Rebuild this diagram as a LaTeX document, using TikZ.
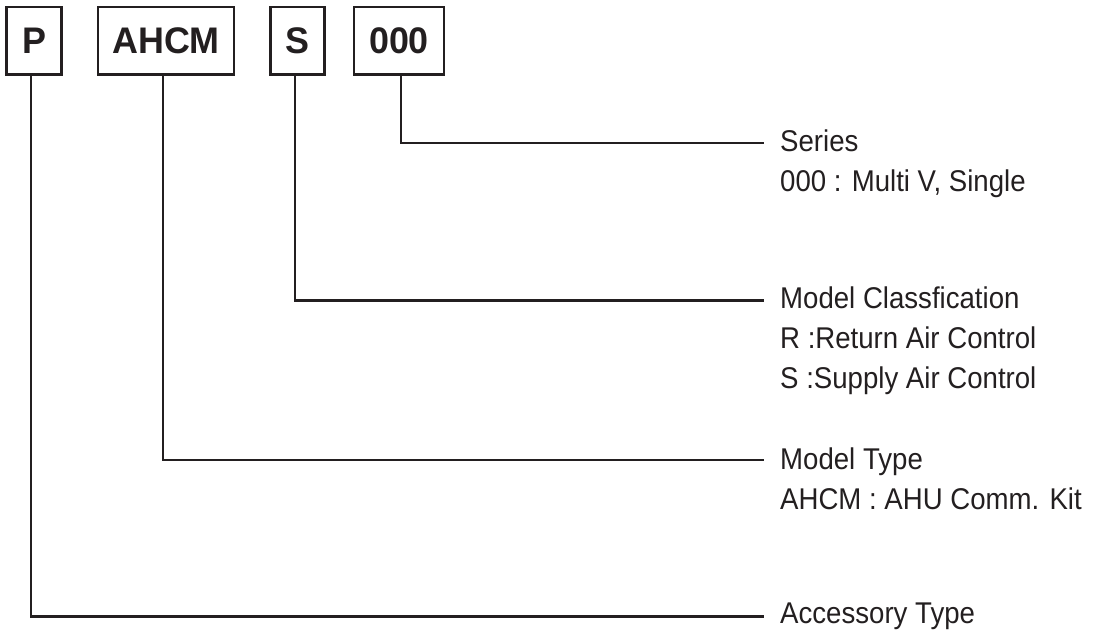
\documentclass[tikz,border=0pt]{standalone}
\usepackage{fontspec}
\setmainfont{Liberation Sans}[FakeStretch=0.92]
\newfontfamily\boxfont{Liberation Sans}[FakeStretch=0.97]
\definecolor{ink}{HTML}{231F20}
\begin{document}
\begin{tikzpicture}[x=1pt,y=-1pt,
  codebox/.style={draw=ink, line width=2.7pt, minimum height=67.6pt, inner sep=0pt,
    font=\boxfont\bfseries\fontsize{37}{40}\selectfont, text=ink},
  conn/.style={draw=ink, line width=2.4pt},
  desc/.style={anchor=base west, inner sep=0pt, text=ink,
    font=\fontsize{30}{40}\selectfont}]
\useasboundingbox (0,0) rectangle (1094,637);
% code boxes
\node[codebox, minimum width=55pt] (bP) at (34,40.8) {P};
\node[codebox, minimum width=136pt] (bA) at (166,40.8) {AHCM};
\node[codebox, minimum width=54pt] (bS) at (297.7,40.8) {S};
\node[codebox, minimum width=90pt] (b0) at (399,40.8) {000};
% connector ends
\coordinate (eSer) at (764,143);
\coordinate (eMC) at (764,300.5);
\coordinate (eMT) at (764,460);
\coordinate (eAcc) at (764,616.5);
% connectors
\draw[conn] (b0.south) ++(2,0) |- (eSer);
\draw[conn] (bS.south) ++(-2.7,0) |- (eMC);
\draw[conn] (bA.south) ++(-3,0) |- (eMT);
\draw[conn] (bP.south) ++(-3,0) |- (eAcc);
% descriptions
\node[desc] (tSer1) at (780,151) {Series};
\node[desc] (tSer2) at (780,191) {000 : Multi V, Single};
\node[desc] (tMC1) at (780,308) {Model Classfication};
\node[desc] (tMC2) at (780,348) {R :Return Air Control};
\node[desc] (tMC3) at (780,388) {S :Supply Air Control};
\node[desc] (tMT1) at (780,469) {Model Type};
\node[desc] (tMT2) at (780,509) {AHCM : AHU Comm. Kit};
\node[desc] (tAcc) at (780,623) {Accessory Type};
\end{tikzpicture}
\end{document}
